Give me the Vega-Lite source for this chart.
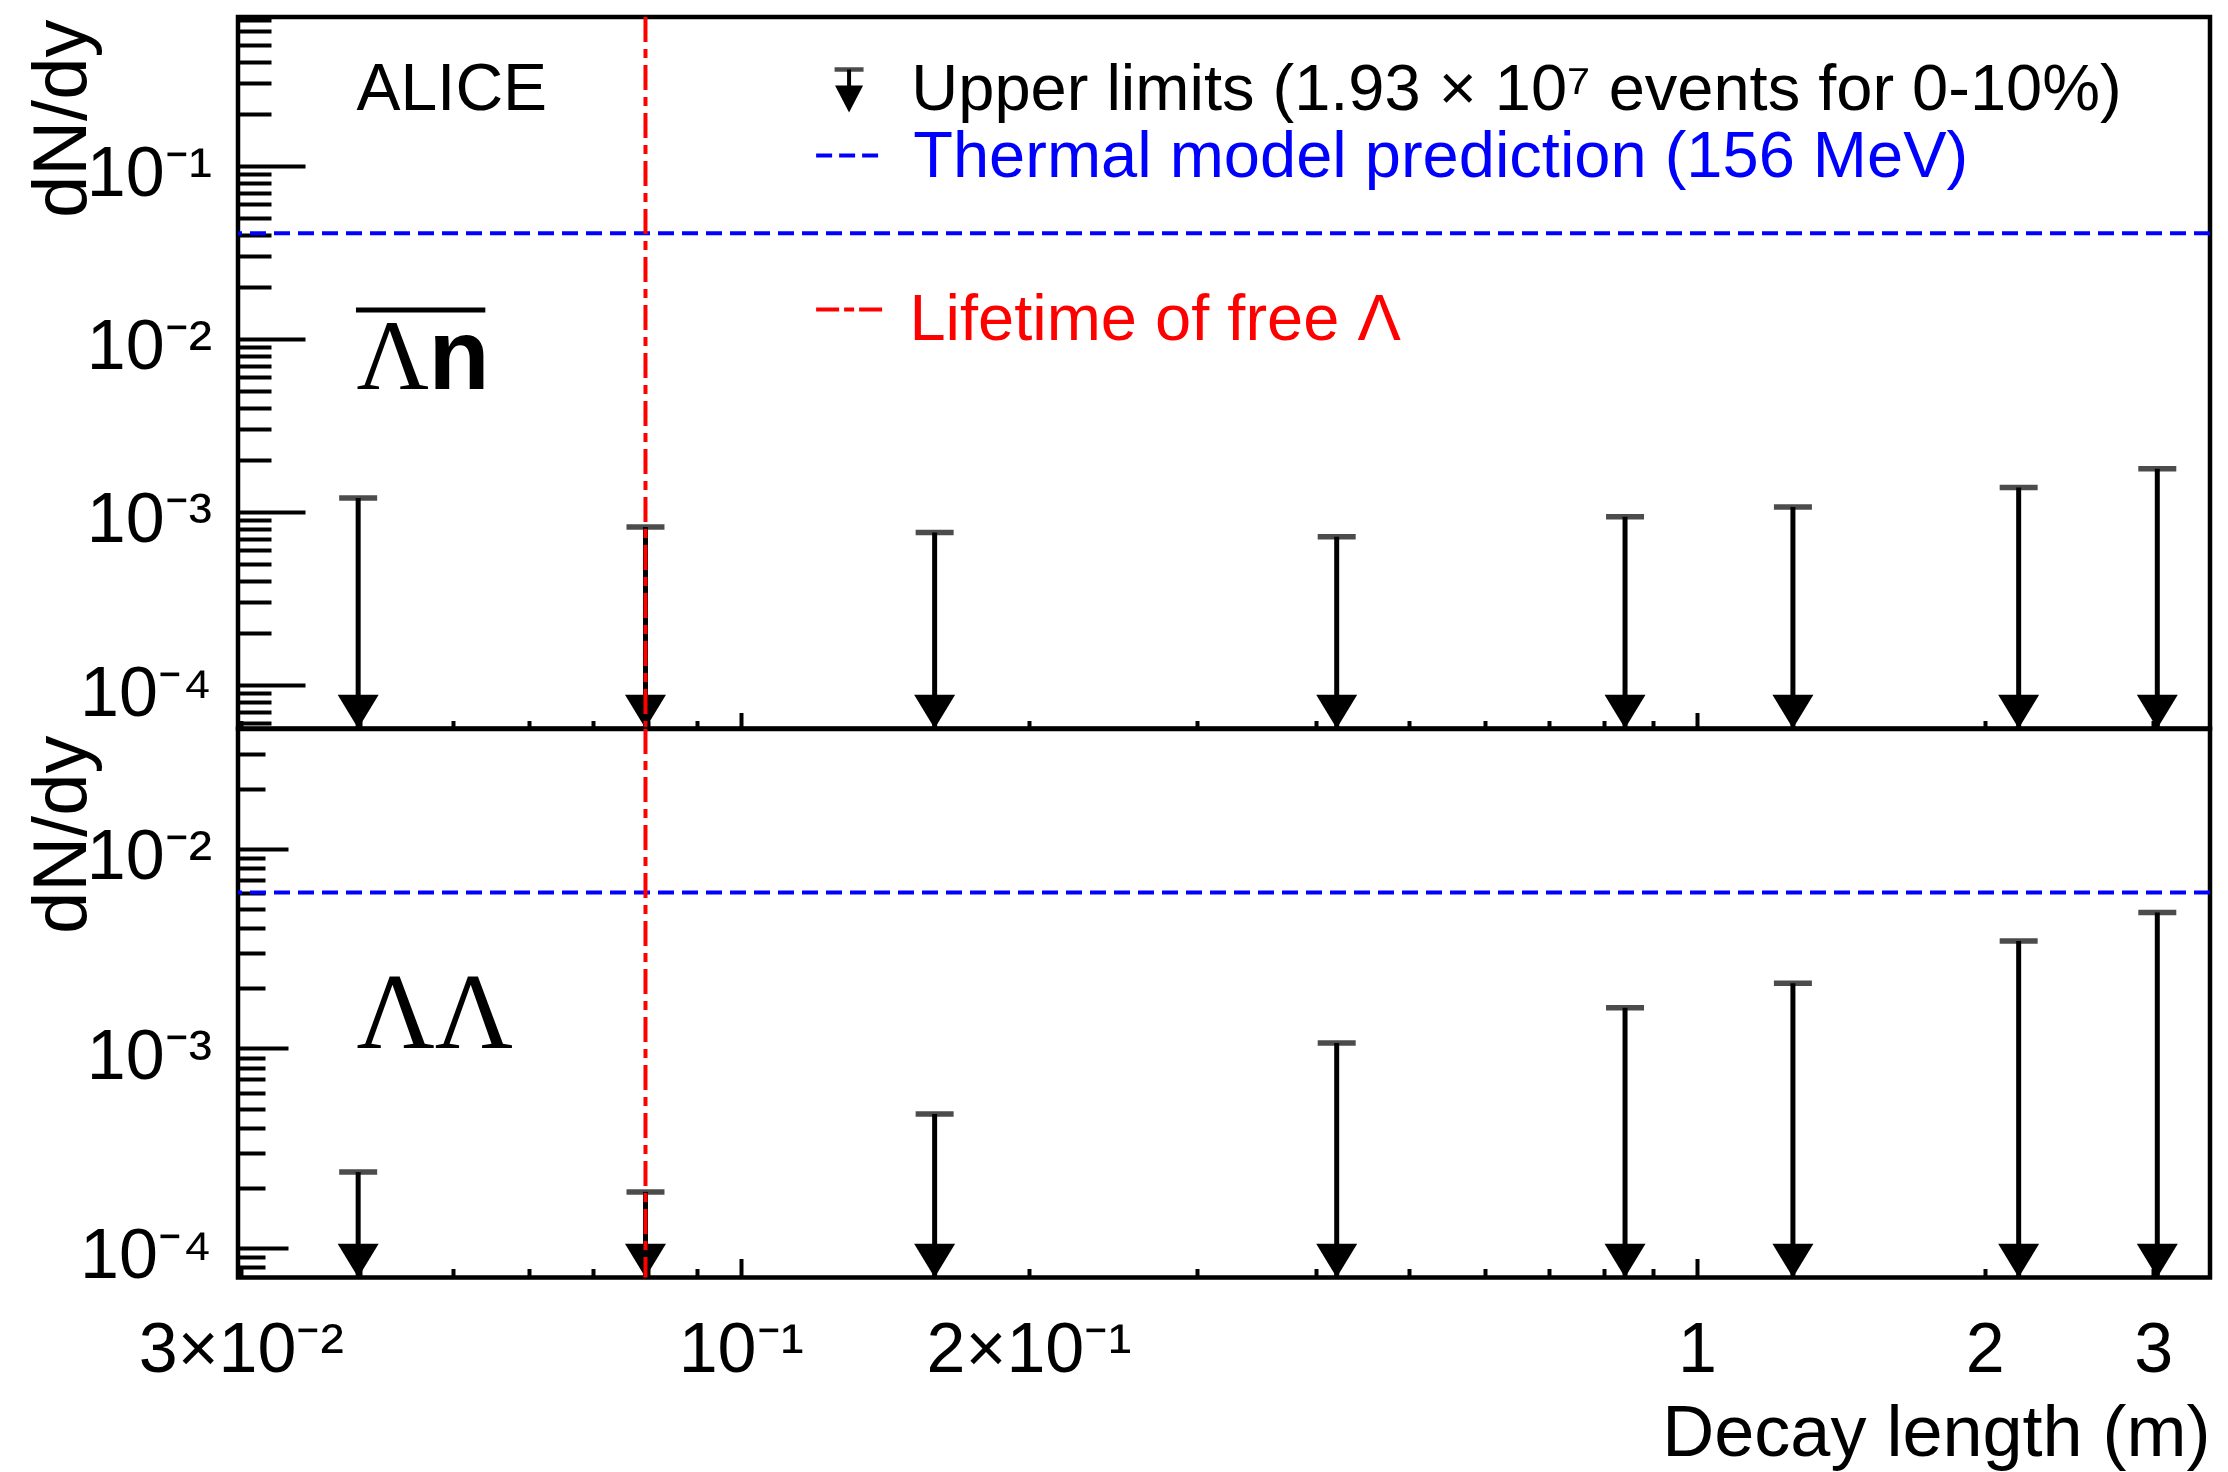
{
  "$schema": "https://vega.github.io/schema/vega-lite/v6.json",
  "background": "white",
  "padding": {"left": 22, "top": 12, "right": 10, "bottom": 0},
  "spacing": 0,
  "bounds": "flush",
  "config": {
    "view": {"stroke": "black", "strokeWidth": 4.5},
    "font": "Liberation Sans",
    "axis": {"labelFont": "Liberation Sans", "titleFont": "Liberation Sans", "labelColor": "black", "titleColor": "black", "tickColor": "black", "grid": false, "domain": false, "labelLimit": 0}
  },
  "datasets": {
    "lambda_n_bar": [
      {"decay_length": 0.0398, "upper_limit": 0.001205},
      {"decay_length": 0.0795, "upper_limit": 0.000819},
      {"decay_length": 0.1595, "upper_limit": 0.000762},
      {"decay_length": 0.42, "upper_limit": 0.00072},
      {"decay_length": 0.841, "upper_limit": 0.000938},
      {"decay_length": 1.26, "upper_limit": 0.001069},
      {"decay_length": 2.17, "upper_limit": 0.001385},
      {"decay_length": 3.03, "upper_limit": 0.001776}
    ],
    "lambda_lambda": [
      {"decay_length": 0.0398, "upper_limit": 0.00024},
      {"decay_length": 0.0795, "upper_limit": 0.000191},
      {"decay_length": 0.1595, "upper_limit": 0.00047},
      {"decay_length": 0.42, "upper_limit": 0.001066},
      {"decay_length": 0.841, "upper_limit": 0.0016},
      {"decay_length": 1.26, "upper_limit": 0.00212},
      {"decay_length": 2.17, "upper_limit": 0.00346},
      {"decay_length": 3.03, "upper_limit": 0.00481}
    ]
  },
  "vconcat": [
    {
      "width": 1972,
      "height": 711.5,
      "layer": [
        {
          "data": {"name": "lambda_n_bar"},
          "mark": {"type": "rule", "color": "black", "strokeWidth": 5},
          "encoding": {
            "x": {"field": "decay_length", "type": "quantitative",
              "scale": {"type": "log", "domain": [0.0298, 3.44], "nice": false, "zero": false},
              "axis": {"orient": "bottom", "labels": false, "title": null,
                "values": [0.03,0.04,0.05,0.06,0.07,0.08,0.09,0.1,0.2,0.3,0.4,0.5,0.6,0.7,0.8,0.9,1,2,3],
                "tickSize": {"condition": {"test": "abs(log(datum.value)/LN10 - round(log(datum.value)/LN10)) < 0.001", "value": -16}, "value": -8},
                "tickWidth": 4, "domain": false, "grid": false}},
            "y": {"field": "upper_limit", "type": "quantitative",
              "scale": {"type": "log", "domain": [0.0000561, 0.7238], "nice": false, "zero": false},
              "axis": {"title": "dN/dy", "titleFontSize": 76, "titleFontWeight": "normal",
                "titleX": -136.5, "titleY": 2, "titleAngle": -90, "titleAlign": "right", "titleBaseline": "bottom",
                "values": [0.00006,0.00007,0.00008,0.00009,0.0001,0.0002,0.0003,0.0004,0.0005,0.0006,0.0007,0.0008,0.0009,0.001,0.002,0.003,0.004,0.005,0.006,0.007,0.008,0.009,0.01,0.02,0.03,0.04,0.05,0.06,0.07,0.08,0.09,0.1,0.2,0.3,0.4,0.5,0.6,0.7],
                "labelExpr": "abs(log(datum.value)/LN10 + 1) < 0.001 ? '10⁻¹' : abs(log(datum.value)/LN10 + 2) < 0.001 ? '10⁻²' : abs(log(datum.value)/LN10 + 3) < 0.001 ? '10⁻³' : abs(log(datum.value)/LN10 + 4) < 0.001 ? '10⁻⁴' : ''",
                "labelFontSize": {"condition": {"test": "abs(log(datum.value)/LN10 - round(log(datum.value)/LN10)) < 0.001", "value": 70}, "value": 0},
                "labelOverlap": false, "labelFlush": false, "labelAlign": "right", "labelBaseline": "middle", "labelOffset": 9,
                "tickSize": {"condition": {"test": "abs(log(datum.value)/LN10 - round(log(datum.value)/LN10)) < 0.001", "value": -67}, "value": -33},
                "labelPadding": {"condition": {"test": "abs(log(datum.value)/LN10 - round(log(datum.value)/LN10)) < 0.001", "value": 93.5}, "value": 59.5},
                "tickWidth": 4, "domain": false, "grid": false}},
            "y2": {"datum": 0.0000561}
          }
        },
        {
          "data": {"name": "lambda_n_bar"},
          "mark": {"type": "tick", "orient": "horizontal", "color": "black", "size": 38, "thickness": 5.5},
          "encoding": {
            "x": {"field": "decay_length", "type": "quantitative"},
            "y": {"field": "upper_limit", "type": "quantitative"}
          }
        },
        {
          "data": {"name": "lambda_n_bar"},
          "mark": {"type": "point", "shape": "M-1,-1.65L1,-1.65L0,0Z", "filled": true, "color": "black", "opacity": 1, "size": 1681},
          "encoding": {
            "x": {"field": "decay_length", "type": "quantitative"},
            "y": {"datum": 0.0000561, "type": "quantitative"}
          }
        },
        {
          "data": {"values": [{}]},
          "mark": {"type": "rule", "color": "#0000ff", "strokeWidth": 4, "strokeDash": [16, 8]},
          "encoding": {"y": {"datum": 0.0408, "type": "quantitative"}}
        },
        {
          "data": {"values": [{}]},
          "mark": {"type": "rule", "color": "#ff0000", "strokeWidth": 4, "strokeDash": [25, 7, 9, 7]},
          "encoding": {"x": {"datum": 0.0795, "type": "quantitative"}}
        },
        {
          "data": {"values": [{}]},
          "mark": {"type": "text", "text": "ALICE", "font": "Liberation Sans", "fontSize": 66, "align": "left", "baseline": "alphabetic", "color": "black"},
          "encoding": {"x": {"datum": 0.03963, "type": "quantitative"}, "y": {"datum": 0.21, "type": "quantitative"}}
        },
        {
          "data": {"values": [{}]},
          "mark": {"type": "text", "text": "Λ", "font": "Liberation Serif", "fontSize": 100, "align": "left", "baseline": "alphabetic", "color": "black"},
          "encoding": {"x": {"datum": 0.03963, "type": "quantitative"}, "y": {"datum": 0.0051, "type": "quantitative"}}
        },
        {
          "data": {"values": [{}]},
          "mark": {"type": "text", "text": "n", "font": "Liberation Sans", "fontWeight": "bold", "fontSize": 100, "align": "left", "baseline": "alphabetic", "color": "black"},
          "encoding": {"x": {"datum": 0.04714, "type": "quantitative"}, "y": {"datum": 0.0051, "type": "quantitative"}}
        },
        {
          "data": {"values": [{}]},
          "mark": {"type": "rule", "color": "black", "strokeWidth": 5},
          "encoding": {"x": {"datum": 0.03959, "type": "quantitative"}, "x2": {"datum": 0.05406}, "y": {"datum": 0.01469, "type": "quantitative"}}
        },
        {
          "data": {"values": [{}]},
          "mark": {"type": "rule", "color": "black", "strokeWidth": 4},
          "encoding": {"x": {"datum": 0.1298, "type": "quantitative"}, "y": {"datum": 0.36, "type": "quantitative"}, "y2": {"datum": 0.23}}
        },
        {
          "data": {"values": [{}]},
          "mark": {"type": "tick", "orient": "horizontal", "color": "black", "size": 29, "thickness": 4.5},
          "encoding": {"x": {"datum": 0.1298, "type": "quantitative"}, "y": {"datum": 0.36, "type": "quantitative"}}
        },
        {
          "data": {"values": [{}]},
          "mark": {"type": "point", "shape": "M-1,-1.93L1,-1.93L0,0Z", "filled": true, "color": "black", "opacity": 1, "size": 784},
          "encoding": {"x": {"datum": 0.1298, "type": "quantitative"}, "y": {"datum": 0.203, "type": "quantitative"}}
        },
        {
          "data": {"values": [{}]},
          "mark": {"type": "text", "text": "Upper limits (1.93 × 10⁷ events for 0-10%)", "font": "Liberation Sans", "fontSize": 65, "align": "left", "baseline": "alphabetic", "color": "black"},
          "encoding": {"x": {"datum": 0.1508, "type": "quantitative"}, "y": {"datum": 0.2114, "type": "quantitative"}}
        },
        {
          "data": {"values": [{}]},
          "mark": {"type": "rule", "color": "#0000ff", "strokeWidth": 4, "strokeDash": [16, 7]},
          "encoding": {"x": {"datum": 0.1199, "type": "quantitative"}, "x2": {"datum": 0.1392}, "y": {"datum": 0.1147, "type": "quantitative"}}
        },
        {
          "data": {"values": [{}]},
          "mark": {"type": "text", "text": "Thermal model prediction (156 MeV)", "font": "Liberation Sans", "fontSize": 65, "align": "left", "baseline": "alphabetic", "color": "#0000ff"},
          "encoding": {"x": {"datum": 0.1515, "type": "quantitative"}, "y": {"datum": 0.0856, "type": "quantitative"}}
        },
        {
          "data": {"values": [{}]},
          "mark": {"type": "rule", "color": "#ff0000", "strokeWidth": 4, "strokeDash": [23, 5, 10, 5]},
          "encoding": {"x": {"datum": 0.1199, "type": "quantitative"}, "x2": {"datum": 0.1409}, "y": {"datum": 0.01479, "type": "quantitative"}}
        },
        {
          "data": {"values": [{}]},
          "mark": {"type": "text", "text": "Lifetime of free Λ", "font": "Liberation Sans", "fontSize": 65, "align": "left", "baseline": "alphabetic", "color": "#ff0000"},
          "encoding": {"x": {"datum": 0.1501, "type": "quantitative"}, "y": {"datum": 0.00979, "type": "quantitative"}}
        }
      ]
    },
    {
      "width": 1972,
      "height": 548.5,
      "layer": [
        {
          "data": {"name": "lambda_lambda"},
          "mark": {"type": "rule", "color": "black", "strokeWidth": 5},
          "encoding": {
            "x": {"field": "decay_length", "type": "quantitative",
              "scale": {"type": "log", "domain": [0.0298, 3.44], "nice": false, "zero": false},
              "axis": {"title": "Decay length (m)", "titleFontSize": 72, "titleFontWeight": "normal",
                "titleX": 1972, "titleY": 178, "titleAlign": "right", "titleBaseline": "alphabetic", "titleAngle": 0,
                "values": [0.03,0.04,0.05,0.06,0.07,0.08,0.09,0.1,0.2,0.3,0.4,0.5,0.6,0.7,0.8,0.9,1,2,3],
                "labelExpr": "abs(datum.value - 0.03) < 0.000001 ? '3×10⁻²' : abs(datum.value - 0.1) < 0.000001 ? '10⁻¹' : abs(datum.value - 0.2) < 0.000001 ? '2×10⁻¹' : abs(datum.value - 1) < 0.000001 ? '1' : abs(datum.value - 2) < 0.000001 ? '2' : abs(datum.value - 3) < 0.000001 ? '3' : ''",
                "labelFontSize": 70, "labelLimit": 0, "labelOverlap": false, "labelFlush": false, "labelBaseline": "top", "labelAlign": "center",
                "tickSize": {"condition": {"test": "abs(log(datum.value)/LN10 - round(log(datum.value)/LN10)) < 0.001", "value": -19}, "value": -9},
                "labelPadding": {"condition": {"test": "abs(log(datum.value)/LN10 - round(log(datum.value)/LN10)) < 0.001", "value": 57.5}, "value": 47.5},
                "tickWidth": 4, "domain": false, "grid": false}},
            "y": {"field": "upper_limit", "type": "quantitative",
              "scale": {"type": "log", "domain": [0.0000711, 0.03995], "nice": false, "zero": false},
              "axis": {"title": "dN/dy", "titleFontSize": 76, "titleFontWeight": "normal",
                "titleX": -136.5, "titleY": 6, "titleAngle": -90, "titleAlign": "right", "titleBaseline": "bottom",
                "values": [0.00008,0.00009,0.0001,0.0002,0.0003,0.0004,0.0005,0.0006,0.0007,0.0008,0.0009,0.001,0.002,0.003,0.004,0.005,0.006,0.007,0.008,0.009,0.01,0.02,0.03],
                "labelExpr": "abs(log(datum.value)/LN10 + 2) < 0.001 ? '10⁻²' : abs(log(datum.value)/LN10 + 3) < 0.001 ? '10⁻³' : abs(log(datum.value)/LN10 + 4) < 0.001 ? '10⁻⁴' : ''",
                "labelFontSize": {"condition": {"test": "abs(log(datum.value)/LN10 - round(log(datum.value)/LN10)) < 0.001", "value": 70}, "value": 0},
                "labelOverlap": false, "labelFlush": false, "labelAlign": "right", "labelBaseline": "middle", "labelOffset": 9,
                "tickSize": {"condition": {"test": "abs(log(datum.value)/LN10 - round(log(datum.value)/LN10)) < 0.001", "value": -50}, "value": -27},
                "labelPadding": {"condition": {"test": "abs(log(datum.value)/LN10 - round(log(datum.value)/LN10)) < 0.001", "value": 76.5}, "value": 53.5},
                "tickWidth": 4, "domain": false, "grid": false}},
            "y2": {"datum": 0.0000711}
          }
        },
        {
          "data": {"name": "lambda_lambda"},
          "mark": {"type": "tick", "orient": "horizontal", "color": "black", "size": 38, "thickness": 5.5},
          "encoding": {
            "x": {"field": "decay_length", "type": "quantitative"},
            "y": {"field": "upper_limit", "type": "quantitative"}
          }
        },
        {
          "data": {"name": "lambda_lambda"},
          "mark": {"type": "point", "shape": "M-1,-1.65L1,-1.65L0,0Z", "filled": true, "color": "black", "opacity": 1, "size": 1681},
          "encoding": {
            "x": {"field": "decay_length", "type": "quantitative"},
            "y": {"datum": 0.0000711, "type": "quantitative"}
          }
        },
        {
          "data": {"values": [{}]},
          "mark": {"type": "rule", "color": "#0000ff", "strokeWidth": 4, "strokeDash": [16, 8]},
          "encoding": {"y": {"datum": 0.00605, "type": "quantitative"}}
        },
        {
          "data": {"values": [{}]},
          "mark": {"type": "rule", "color": "#ff0000", "strokeWidth": 4, "strokeDash": [25, 7, 9, 7]},
          "encoding": {"x": {"datum": 0.0795, "type": "quantitative"}}
        },
        {
          "data": {"values": [{}]},
          "mark": {"type": "text", "text": "ΛΛ", "font": "Liberation Serif", "fontSize": 108, "align": "left", "baseline": "alphabetic", "color": "black"},
          "encoding": {"x": {"datum": 0.03963, "type": "quantitative"}, "y": {"datum": 0.001006, "type": "quantitative"}}
        }
      ]
    }
  ]
}
